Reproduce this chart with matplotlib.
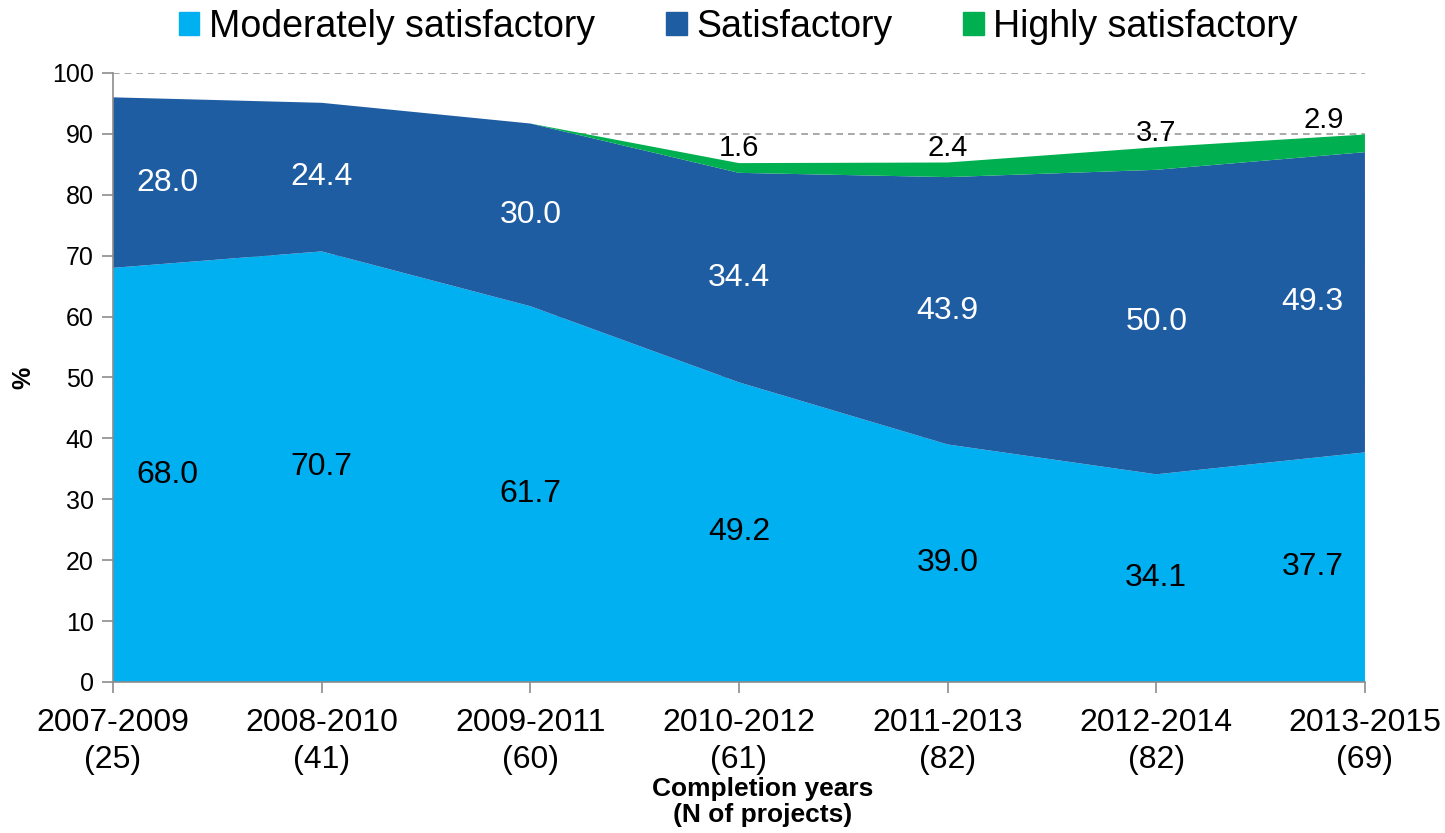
import matplotlib
matplotlib.use("Agg")
import matplotlib.pyplot as plt
from matplotlib.patches import Patch
import numpy as np

plt.rcParams['font.family'] = ['Liberation Sans', 'DejaVu Sans']

periods = ["2007-2009", "2008-2010", "2009-2011", "2010-2012", "2011-2013", "2012-2014", "2013-2015"]
n_projects = [25, 41, 60, 61, 82, 82, 69]
moderately = [68.0, 70.7, 61.7, 49.2, 39.0, 34.1, 37.7]
satisfactory = [28.0, 24.4, 30.0, 34.4, 43.9, 50.0, 49.3]
highly = [0.0, 0.0, 0.0, 1.6, 2.4, 3.7, 2.9]

c_mod = "#00B0F0"
c_sat = "#1F5DA3"
c_high = "#00B050"

fig = plt.figure(figsize=(14.45, 8.33), dpi=100)
ax = fig.add_axes([0.0782, 0.1813, 0.9446 - 0.0782, 0.9124 - 0.1813])

x = np.arange(len(periods))
mod = np.array(moderately)
sat = np.array(satisfactory)
hig = np.array(highly)

ax.set_axisbelow(True)
ax.yaxis.grid(True, linestyle=(0, (4, 3)), color="#9a9a9a", linewidth=1.2, zorder=0)
ax.stackplot(x, mod, sat, hig, colors=[c_mod, c_sat, c_high], zorder=2, linewidth=0)

ax.set_xlim(0, len(periods) - 1)
ax.set_ylim(0, 100)
ax.set_yticks(np.arange(0, 101, 10))
ax.set_xticks(x)
ax.set_xticklabels([f"{p}\n({n})" for p, n in zip(periods, n_projects)], fontsize=23, linespacing=1.3)
ax.tick_params(axis='y', labelsize=18, length=8, width=1.2, color="#8c8c8c", pad=6)
ax.tick_params(axis='x', length=8, width=1.2, color="#8c8c8c", pad=11)
for s in ["top", "right"]:
    ax.spines[s].set_visible(False)
for s in ["left", "bottom"]:
    ax.spines[s].set_color("#8c8c8c")
    ax.spines[s].set_linewidth(1.2)
    ax.spines[s].set_zorder(3)

# label x positions (Excel shifts end labels inward)
lab_x = x.astype(float).copy()
lab_x[0] = 0.26
lab_x[-1] = len(periods) - 1 - 0.25

for i in range(len(periods)):
    ax.text(lab_x[i], mod[i] / 2, f"{mod[i]:.1f}", ha="center", va="center", fontsize=23, color="black", zorder=4)
    ax.text(lab_x[i], mod[i] + sat[i] / 2, f"{sat[i]:.1f}", ha="center", va="center", fontsize=23, color="white", zorder=4)
    if hig[i] > 0:
        hx = lab_x[i] if i < len(periods) - 1 else len(periods) - 1 - 0.2
        ax.text(hx, mod[i] + sat[i] + hig[i] + 2.4, f"{hig[i]:.1f}", ha="center", va="center", fontsize=21, color="black", zorder=4)

ax.set_ylabel("%", fontsize=18, fontweight="bold", labelpad=12)
ax.set_xlabel("Completion years\n(N of projects)", fontsize=19, fontweight="bold", labelpad=1, linespacing=1.1)
ax.xaxis.label.set_x(0.519)

handles = [Patch(color=c_mod), Patch(color=c_sat), Patch(color=c_high)]
fig.legend(handles, ["Moderately satisfactory", "Satisfactory", "Highly satisfactory"],
           loc="upper center", bbox_to_anchor=(0.511, 1.03), ncol=3, frameon=False, fontsize=27,
           handlelength=0.55, handleheight=0.6, handletextpad=0.25, columnspacing=1.9)

fig.savefig("out.png", dpi=100)
